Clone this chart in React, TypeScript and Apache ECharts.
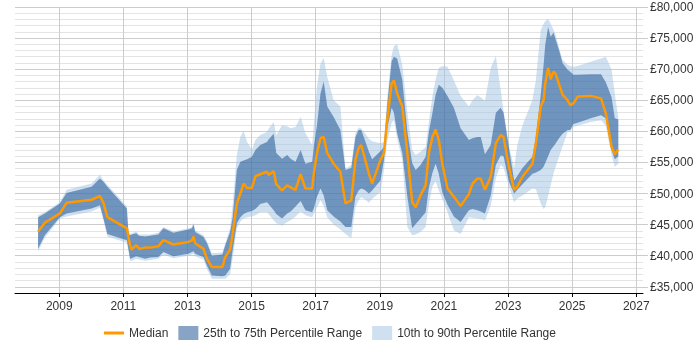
import { useEffect, useRef } from 'react';
import * as echarts from 'echarts';

// Salary percentiles over time (decimal years)
const years = [
  2008.34, 2008.55, 2009.02, 2009.23, 2010.01, 2010.27, 2010.38, 2010.5, 2011.11, 2011.16,
  2011.21, 2011.26, 2011.4, 2011.49, 2011.68, 2011.83,
  2012.09, 2012.25, 2012.56, 2013.03, 2013.14, 2013.19, 2013.24, 2013.5, 2013.61, 2013.76,
  2014.09, 2014.18, 2014.33, 2014.41, 2014.54, 2014.65, 2014.75, 2014.86, 2015.01, 2015.12,
  2015.27,
  2015.48, 2015.53, 2015.69, 2015.77, 2015.95, 2016.11, 2016.22, 2016.37, 2016.53, 2016.68,
  2016.89, 2016.94, 2017.04, 2017.15, 2017.25, 2017.36, 2017.56, 2017.77, 2017.93, 2018.11,
  2018.24, 2018.34, 2018.42, 2018.52, 2018.66, 2018.76, 2019.02,
  2019.13, 2019.23, 2019.37, 2019.44, 2019.54, 2019.7, 2019.86, 2020.01, 2020.12, 2020.27,
  2020.43, 2020.53, 2020.64, 2020.74, 2020.84, 2020.95, 2021.11, 2021.31, 2021.52, 2021.78,
  2021.89, 2022.04, 2022.15, 2022.28, 2022.46, 2022.62, 2022.77,
  2022.86, 2023.03, 2023.19, 2023.29, 2023.45, 2023.76, 2023.87, 2024.02, 2024.11, 2024.16,
  2024.25, 2024.33, 2024.42, 2024.49, 2024.59, 2024.7, 2024.86, 2024.94, 2025.04, 2025.17,
  2025.58, 2025.9, 2026.05, 2026.23, 2026.33, 2026.44,
];

const p90 = [
  46500, 47000, 48600, 50600, 51600, 53000, 52100, 51400, 47900, 43800,
  43500, 43600, 43900, 43400, 43400, 43400,
  43700, 44600, 43900, 44400, 44600, 45300, 44100, 43300, 42300, 40400,
  40500, 42000, 44400, 48100, 56200, 59100, 60100, 58300, 57100, 58600,
  59400,
  59900, 60400, 61500, 59400, 61000, 60800, 60500, 60700, 62300, 59700,
  57800, 61000, 67300, 70900, 71800, 68800, 65000, 64000, 54000, 54600,
  59700, 60600, 60500, 59800, 58800, 58400, 58100,
  58300, 65200, 72300, 73700, 74000, 70700, 63000, 57000, 56200, 56700,
  57500, 61500, 65600, 68300, 70200, 70500, 70400, 68200, 65700, 64000,
  65000, 65800, 65500, 64900, 70200, 72100, 66700,
  63300, 57600, 54100, 57800, 61000, 65000, 68300, 76300, 77300, 77700,
  78100, 77300, 76300, 75400, 73400, 71500, 70700, 70500, 70400, 70500,
  71200, 71700, 72000, 69900, 66100, 62100,
];

const p75 = [
  46200, 46800, 48400, 50100, 51100, 52400, 51900, 51100, 47600, 43500,
  43300, 43400, 43600, 43200, 43100, 43200,
  43400, 44400, 43700, 44200, 44400, 45000, 43800, 43000, 42000, 40000,
  40200, 41700, 43800, 46200, 53800, 55100, 55300, 55500, 55900, 57000,
  57800,
  58300, 58700, 59600, 56500, 55600, 56200, 55600, 55100, 57000, 54800,
  55100, 57500, 61000, 66100, 68000, 64000, 62300, 60200, 53800, 54100,
  59100, 60200, 60200, 58800, 56700, 55500, 56800,
  57500, 64200, 71300, 72000, 71700, 68300, 59900, 54900, 53800, 54600,
  55900, 59900, 62900, 65900, 67500, 67000, 65700, 63800, 60500, 58600,
  58900, 59100, 59100, 56300, 57800, 63000, 63800,
  63000, 57300, 52100, 52800, 54100, 55900, 59200, 65900, 70700, 73900,
  76800, 75200, 75900, 74700, 73100, 71000, 69900, 69600, 69100, 69100,
  69200, 69200, 67900, 65500, 62100, 61900,
];

const median = [
  43900, 45300, 46800, 48500, 49000, 49600, 48500, 46200, 44400, 43000,
  41700, 41000, 41700, 41100, 41300, 41300,
  41500, 42500, 41800, 42200, 42500, 43100, 42000, 41100, 39500, 38200,
  38200, 39800, 41000, 43500, 48400, 50000, 51600, 50900, 50900, 52800,
  53100,
  53500, 53000, 53600, 51500, 50500, 51300, 51000, 50600, 53100, 50800,
  50800, 53200, 56500, 58900, 59100, 56500, 54800, 53500, 48400, 48900,
  55400, 57300, 57800, 55900, 53200, 51600, 55400,
  56500, 61800, 67700, 68200, 66100, 64000, 56500, 48600, 47800, 49700,
  51300, 56500, 59100, 60300, 58600, 54800, 50800, 49500, 48000, 49900,
  51600, 52400, 52400, 50600, 52700, 58100, 59400,
  59100, 54300, 50600, 51100, 52700, 54800, 58100, 64000, 65000, 67700,
  70200, 68400, 69600, 69200, 67600, 65900, 65000, 64200, 64500, 65600,
  65700, 65300, 62900, 57500, 56300, 57100,
];

const p25 = [
  41100, 43300, 46200, 46800, 47600, 48100, 46000, 43500, 42500, 41000,
  39500, 39600, 39900, 39800, 39500, 39700,
  39800, 40600, 39900, 40300, 40600, 40700, 40300, 39800, 38400, 36800,
  36700, 36800, 37900, 40900, 45200, 46200, 46700, 47000, 47200, 47500,
  48300,
  48600, 48300, 47300, 46700, 46000, 46800, 47100, 47900, 48800, 47300,
  47000, 47600, 49500, 50800, 49700, 47300, 46300, 45500, 44600, 44600,
  49500, 50500, 50800, 50600, 50000, 50500, 52100,
  55400, 60500, 63800, 63000, 59700, 56500, 49500, 44400, 45100, 46000,
  47000, 50900, 53300, 54800, 53200, 50200, 48200, 46300, 45400, 47300,
  47500, 47300, 47100, 46800, 49700, 54600, 56100,
  56000, 51900, 50000, 50600, 51500, 53200, 53400, 53800, 54300, 54900,
  56000, 57000, 57600, 58100, 58900, 59600, 60200, 60200, 61200, 61400,
  62100, 62600, 62100, 57000, 55500, 56000,
];

const p10 = [
  40700, 42900, 46000, 46300, 47100, 47700, 45700, 43100, 42100, 40700,
  39200, 39200, 39500, 39400, 39200, 39300,
  39500, 40200, 39600, 40000, 40200, 40300, 39900, 39400, 37800, 36300,
  36300, 36300, 37000, 39600, 44400, 45500, 46000, 46200, 46300, 46500,
  47000,
  47000, 46700, 45700, 45200, 44800, 45400, 45700, 46300, 47100, 46500,
  46200, 46700, 47800, 48900, 48000, 46200, 45000, 44200, 43500, 42800,
  47800, 48900, 49400, 49100, 48500, 49100, 50300,
  53800, 58500, 61400, 61800, 58900, 55400, 44600, 43300, 43400, 43800,
  44600, 48300, 51100, 52000, 50500, 49100, 47000, 44100, 43500, 46200,
  46100, 46000, 45900, 45700, 48000, 52500, 54600,
  54200, 51100, 48600, 49200, 49700, 50800, 50700, 48400, 47500, 47800,
  49600, 51300, 53300, 54400, 55900, 57600, 59900, 60000, 60700, 60900,
  61500, 61800, 60900, 56200, 54300, 54800,
];

const yearTicks = [2009, 2011, 2013, 2015, 2017, 2019, 2021, 2023, 2025, 2027];
const salaryTicks = [35000, 40000, 45000, 50000, 55000, 60000, 65000, 70000, 75000, 80000];

const FONT = "'Liberation Sans', Arial, Helvetica, sans-serif";
const MEDIAN_COLOR = '#ff9900';
const INNER_COLOR = 'rgba(15, 73, 141, 0.5)';
const OUTER_COLOR = 'rgba(159, 193, 225, 0.5)';

const MEDIAN = 'Median';
const INNER = '25th to 75th Percentile Range';
const OUTER = '10th to 90th Percentile Range';

// A filled band between two percentile curves, drawn as one polygon
function bandSeries(name: string, lower: number[], upper: number[], color: string, z: number) {
  return {
    type: 'custom',
    name,
    z,
    silent: true,
    data: years.map((y, i) => [y, lower[i], upper[i]]),
    encode: { x: 0, y: [1, 2] },
    itemStyle: { color },
    renderItem: (params: any, api: any) => {
      if (params.dataIndex !== 0) return null;
      const top = years.map((y, i) => api.coord([y, upper[i]]));
      const bottom = years.map((y, i) => api.coord([y, lower[i]])).reverse();
      return {
        type: 'polygon',
        shape: { points: top.concat(bottom) },
        style: { fill: color },
      };
    },
  };
}

export default function App() {
  const ref = useRef<HTMLDivElement>(null);

  useEffect(() => {
    if (!ref.current) return;
    const chart = echarts.init(ref.current, undefined, { renderer: 'svg' });
    chart.setOption({
      animation: false,
      textStyle: { fontFamily: FONT },
      grid: { left: 15, right: 57, top: 7, bottom: 57 },
      legend: {
        left: 99,
        top: 321,
        itemWidth: 20,
        itemHeight: 14,
        itemGap: 10,
        selectedMode: false,
        textStyle: { fontSize: 12, color: '#333', fontFamily: FONT },
        data: [
          { name: MEDIAN, icon: 'path://M0,0H20V3H0Z', itemStyle: { color: MEDIAN_COLOR, borderWidth: 0 } },
          { name: INNER, icon: 'rect', itemStyle: { color: INNER_COLOR, borderWidth: 0 } },
          { name: OUTER, icon: 'rect', itemStyle: { color: OUTER_COLOR, borderWidth: 0 } },
        ],
      },
      xAxis: {
        type: 'value',
        min: 2007.62,
        max: 2027.21,
        axisLine: { onZero: false, lineStyle: { color: '#000', width: 1 } },
        axisTick: { customValues: yearTicks, length: 4, lineStyle: { color: '#000' } },
        axisLabel: {
          customValues: yearTicks,
          formatter: (v: number) => String(v),
          fontSize: 12,
          color: '#333',
          margin: 7,
          fontFamily: FONT,
        },
        splitLine: { show: true, lineStyle: { color: '#cccccc', width: 1 } },
      },
      yAxis: [
        {
          type: 'value',
          position: 'right',
          min: 34000,
          max: 80000,
          interval: 1000,
          axisLine: { show: false },
          axisTick: { show: false },
          axisLabel: { show: false },
          splitLine: { show: true, lineStyle: { color: '#e4e4e4', width: 1 } },
        },
        {
          type: 'value',
          position: 'right',
          min: 34000,
          max: 80000,
          axisLine: { show: false },
          axisTick: { show: true, customValues: salaryTicks, length: 5, lineStyle: { color: '#cccccc' } },
          axisLabel: {
            customValues: salaryTicks,
            formatter: (v: number) => '£' + v.toLocaleString('en-GB'),
            fontSize: 12,
            color: '#333',
            margin: 7,
            fontFamily: FONT,
          },
          splitLine: { show: true, lineStyle: { color: '#cccccc', width: 1 } },
        },
      ],
      series: [
        bandSeries(OUTER, p10, p90, OUTER_COLOR, 1),
        bandSeries(INNER, p25, p75, INNER_COLOR, 2),
        {
          type: 'line',
          name: MEDIAN,
          z: 5,
          data: years.map((y, i) => [y, median[i]]),
          symbol: 'none',
          lineStyle: { color: MEDIAN_COLOR, width: 2.5 },
          itemStyle: { color: MEDIAN_COLOR },
        },
      ],
    });
    return () => chart.dispose();
  }, []);

  return (
    <div
      ref={ref}
      style={{ position: 'fixed', left: 0, top: 0, width: 700, height: 350 }}
    />
  );
}
